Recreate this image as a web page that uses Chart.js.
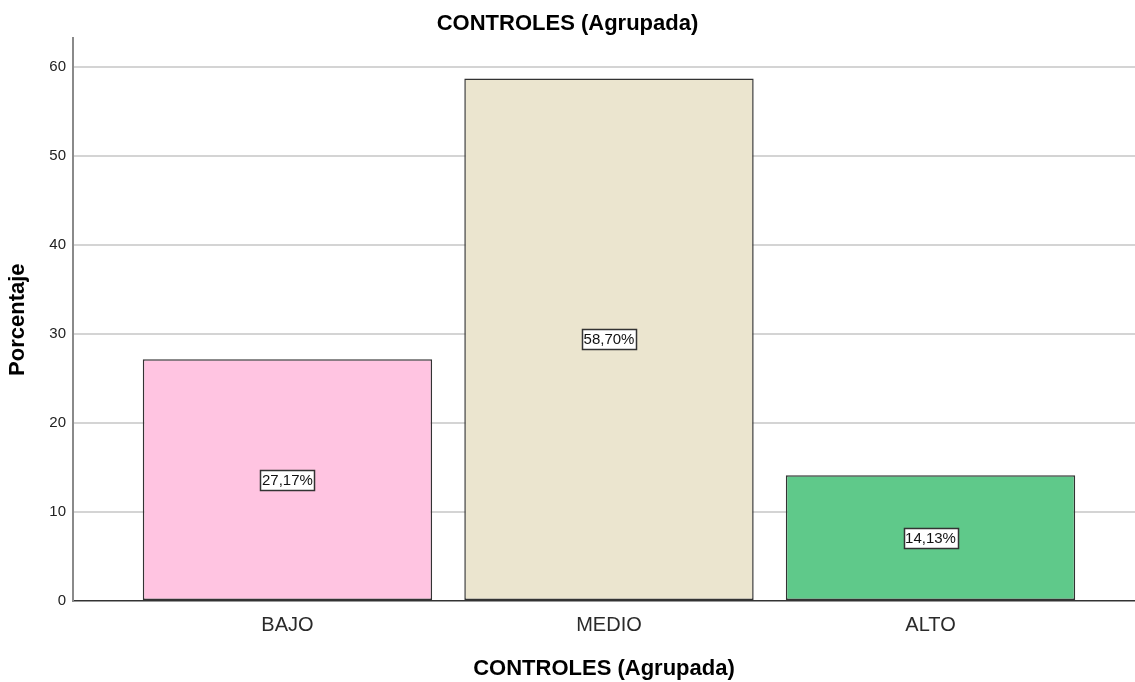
<!DOCTYPE html>
<html>
<head>
<meta charset="utf-8">
<script src="https://cdn.jsdelivr.net/npm/chart.js@4"></script>
<style>
html,body{margin:0;padding:0;background:#fff;}
#wrap{width:1135px;height:682px;}
</style>
</head>
<body>
<div id="wrap"><canvas id="c" width="1135" height="682"></canvas></div>
<script>
const categories = ["BAJO", "MEDIO", "ALTO"];
const percentages = [27.17, 58.70, 14.13];
const yTicks = [0, 10, 20, 30, 40, 50, 60];
const barColors = ["#FFC4E1", "#EBE5CF", "#5FC98A"];

const FONT = '"Liberation Sans", Arial, sans-serif';

const dataLabelPlugin = {
  id: 'dataLabels',
  afterDatasetsDraw(chart) {
    const ctx = chart.ctx;
    const meta = chart.getDatasetMeta(0);
    ctx.save();
    ctx.font = '15px ' + FONT;
    ctx.textAlign = 'center';
    ctx.textBaseline = 'middle';
    meta.data.forEach((bar, i) => {
      const txt = percentages[i].toFixed(2).replace('.', ',') + '%';
      const w = Math.round(ctx.measureText(txt).width + 3);
      const h = 20;
      const cx = bar.x;
      const cy = (bar.y + bar.base) / 2;
      const x0 = Math.round(cx - w / 2) + 0.5;
      const y0 = Math.round(cy - h / 2) + 0.5;
      ctx.fillStyle = '#ffffff';
      ctx.fillRect(x0, y0, w, h);
      ctx.strokeStyle = '#333333';
      ctx.lineWidth = 1.5;
      ctx.strokeRect(x0, y0, w, h);
      ctx.fillStyle = '#111111';
      ctx.fillText(txt, cx, cy + 1);
    });
    ctx.restore();
  }
};

new Chart(document.getElementById('c'), {
  type: 'bar',
  data: {
    datasets: [{
      data: categories.map((c, i) => ({ x: i + 1, y: percentages[i] })),
      backgroundColor: barColors,
      borderColor: '#333333',
      borderWidth: 1.5,
      borderSkipped: false,
      categoryPercentage: 1,
      barPercentage: 0.9
    }]
  },
  options: {
    responsive: false,
    animation: false,
    layout: { padding: { left: 0, right: 0, top: 0, bottom: 0 } },
    plugins: {
      legend: { display: false },
      tooltip: { enabled: false },
      title: {
        display: true,
        text: 'CONTROLES (Agrupada)',
        color: '#000',
        font: { family: FONT, size: 22, weight: 'bold' },
        padding: { top: 11, bottom: 1 }
      }
    },
    scales: {
      x: {
        type: 'linear',
        offset: false,
        min: 0.333,
        max: 3.636,
        afterBuildTicks(scale) {
          scale.ticks = categories.map((c, i) => ({ value: i + 1 }));
        },
        afterFit(scale) { scale.height = 81; },
        ticks: {
          color: '#2a2a2a',
          padding: 12,
          autoSkip: false,
          maxRotation: 0,
          font: { family: FONT, size: 20 },
          callback: (v) => categories[Math.round(v) - 1] || ''
        },
        grid: { display: false, drawTicks: false },
        border: { display: true, color: '#333333', width: 1.5 },
        title: {
          display: true,
          text: 'CONTROLES (Agrupada)',
          color: '#000',
          font: { family: FONT, size: 22, weight: 'bold' },
          padding: { top: 0, bottom: 0 }
        }
      },
      y: {
        min: 0,
        max: 63.2,
        afterBuildTicks(scale) {
          scale.ticks = yTicks.map(v => ({ value: v }));
        },
        afterFit(scale) { scale.width = 73; },
        ticks: {
          color: '#222',
          padding: 7,
          font: { family: FONT, size: 15 }
        },
        grid: {
          color: (ctx) => ctx.tick && ctx.tick.value === 0 ? 'rgba(0,0,0,0)' : '#d4d4d4',
          lineWidth: 2,
          drawTicks: false
        },
        border: { display: true, color: '#8a8a8a', width: 2 },
        title: {
          display: true,
          text: 'Porcentaje',
          color: '#000',
          font: { family: FONT, size: 22, weight: 'bold' },
          padding: { top: 5, bottom: 5 }
        }
      }
    }
  },
  plugins: [dataLabelPlugin]
});
</script>
</body>
</html>
